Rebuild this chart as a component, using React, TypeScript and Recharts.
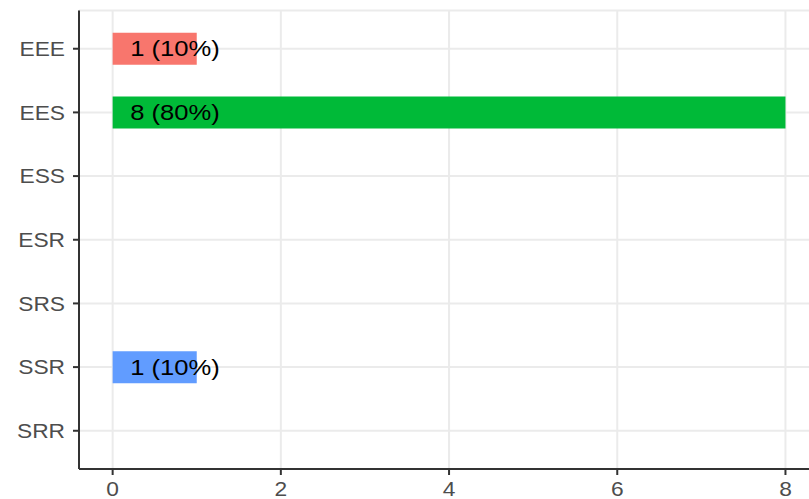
import React from "react";
import {
  BarChart,
  Bar,
  XAxis,
  YAxis,
  CartesianGrid,
  Cell,
  LabelList,
} from "recharts";

const categories = ["EEE", "EES", "ESS", "ESR", "SRS", "SSR", "SRR"];
const counts = [1, 8, 0, 0, 0, 1, 0];
const barLabels = ["1 (10%)", "8 (80%)", "", "", "", "1 (10%)", ""];
const barColors = ["#F8766D", "#00BA38", "#F8766D", "#F8766D", "#F8766D", "#619CFF", "#F8766D"];
const xTicks = [0, 2, 4, 6, 8];
const xMinorTicks = [1, 3, 5, 7];
const xDomain = [-0.4, 8.4];

const data = categories.map((c, i) => ({ cat: c, n: counts[i], label: barLabels[i] }));

const FONT = "'Liberation Sans', Arial, Helvetica, sans-serif";
const SX = 1.11;

const YTick = (props: any) => {
  const { x, y, payload } = props;
  return (
    <text
      transform={`translate(${x},${y}) scale(${SX},1)`}
      x={0}
      y={0}
      dy="0.355em"
      textAnchor="end"
      fill="#4D4D4D"
      fontSize={20.5}
      fontFamily={FONT}
    >
      {payload.value}
    </text>
  );
};

const XTick = (props: any) => {
  const { x, y, payload } = props;
  return (
    <text
      transform={`translate(${x},${y}) scale(${SX},1)`}
      x={0}
      y={0}
      dy="0.71em"
      textAnchor="middle"
      fill="#4D4D4D"
      fontSize={20.5}
      fontFamily={FONT}
    >
      {payload.value}
    </text>
  );
};

const BarLabel = (props: any) => {
  const { x, y, height, value } = props;
  if (!value) return null;
  return (
    <text
      transform={`translate(${Number(x) + 17.5},${Number(y) + Number(height) / 2}) scale(1.19,1)`}
      x={0}
      y={0}
      dy="0.355em"
      textAnchor="start"
      fill="#000000"
      fontSize={21.5}
      fontFamily={FONT}
    >
      {value}
    </text>
  );
};

export default function App() {
  return (
    <div
      style={{
        position: "absolute",
        left: 0,
        top: 0,
        width: 809,
        height: 499,
        overflow: "hidden",
        background: "#FFFFFF",
      }}
    >
      <BarChart
        width={830}
        height={499}
        data={data}
        layout="vertical"
        margin={{ top: 10.5, right: 10.9, bottom: 0, left: 0 }}
        barCategoryGap="25%"
      >
        <CartesianGrid
          xAxisId="top"
          horizontal={false}
          stroke="#EBEBEB"
          strokeWidth={1}
        />
        <CartesianGrid stroke="#EBEBEB" strokeWidth={2} />
        <XAxis
          type="number"
          dataKey="n"
          domain={xDomain}
          ticks={xTicks}
          allowDataOverflow
          height={30}
          tickSize={6}
          tickMargin={6.5}
          axisLine={{ stroke: "#333333", strokeWidth: 2 }}
          tickLine={{ stroke: "#333333", strokeWidth: 2 }}
          tick={<XTick />}
          interval={0}
        />
        <XAxis
          xAxisId="top"
          orientation="top"
          type="number"
          domain={xDomain}
          ticks={xMinorTicks}
          allowDataOverflow
          height={0}
          tick={false}
          tickLine={false}
          axisLine={{ stroke: "#333333", strokeWidth: 2 }}
          interval={0}
        />
        <YAxis
          type="category"
          dataKey="cat"
          width={79}
          tickSize={6}
          tickMargin={8}
          padding={{ top: 6.4, bottom: 6.4 }}
          axisLine={{ stroke: "#333333", strokeWidth: 2 }}
          tickLine={{ stroke: "#333333", strokeWidth: 2 }}
          tick={<YTick />}
          interval={0}
        />
        <Bar dataKey="n" isAnimationActive={false}>
          {data.map((d, i) => (
            <Cell key={d.cat} fill={barColors[i]} />
          ))}
          <LabelList dataKey="label" content={<BarLabel />} />
        </Bar>
      </BarChart>
    </div>
  );
}
